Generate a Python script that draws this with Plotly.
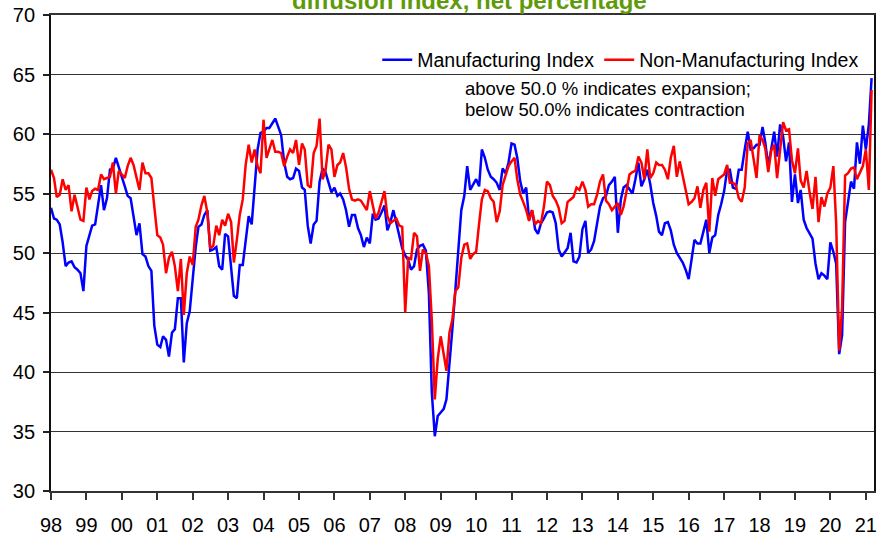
import pandas as pd
import plotly.graph_objects as go

start_month = "1998-01-01"

manufacturing = [
    53.8, 52.9, 52.8, 52.4, 50.9, 48.9, 49.2, 49.3, 48.8, 48.6, 48.3, 46.8,  # 1998
    50.6, 51.6, 52.3, 52.4, 54.2, 55.7, 53.6, 54.6, 57.0, 57.1, 58.0, 57.3,  # 1999
    56.4, 55.6, 54.8, 54.6, 53.1, 51.5, 52.5, 49.9, 49.7, 48.9, 48.5, 43.9,  # 2000
    42.3, 42.1, 43.0, 42.7, 41.3, 43.3, 43.6, 46.2, 46.2, 40.8, 44.1, 45.1,  # 2001
    47.8, 50.5, 52.2, 52.4, 53.2, 53.6, 50.2, 50.3, 50.5, 48.9, 48.6, 51.6,  # 2002
    51.4, 48.9, 46.4, 46.2, 49.0, 49.0, 51.1, 53.1, 52.4, 55.5, 58.7, 60.1,  # 2003
    60.2, 60.5, 60.5, 60.9, 61.3, 60.6, 59.9, 57.6, 56.4, 56.2, 56.3, 57.1,  # 2004
    56.9, 55.5, 55.3, 52.3, 50.8, 52.4, 52.7, 56.0, 57.1, 56.8, 56.0, 55.1,  # 2005
    55.5, 54.8, 55.0, 54.5, 53.6, 52.2, 53.2, 53.2, 52.1, 51.5, 50.5, 51.3,  # 2006
    50.8, 53.3, 52.8, 52.9, 53.4, 54.0, 51.9, 52.6, 53.6, 52.6, 51.4, 50.4,  # 2007
    49.8, 49.4, 48.6, 48.9, 50.3, 50.6, 50.7, 50.2, 46.6, 38.3, 34.6, 36.3,  # 2008
    36.6, 36.9, 37.7, 40.5, 43.6, 46.9, 50.6, 53.6, 54.8, 57.3, 55.3, 55.7,  # 2009
    56.2, 55.6, 58.7, 58.0, 57.0, 56.4, 56.2, 55.9, 55.3, 57.1, 56.7, 57.6,  # 2010
    59.2, 59.1, 58.0, 56.0, 55.0, 55.5, 52.8, 53.6, 52.0, 51.6, 52.5, 52.9,  # 2011
    53.4, 53.5, 53.4, 52.5, 50.3, 49.7, 50.0, 50.4, 51.7, 49.3, 49.2, 49.7,  # 2012
    52.0, 52.7, 50.0, 50.3, 51.0, 52.5, 53.9, 54.6, 54.8, 55.7, 56.0, 56.4,  # 2013
    51.7, 54.5, 55.5, 55.7, 55.3, 55.0, 56.2, 57.6, 55.6, 56.2, 57.0, 55.8,  # 2014
    54.2, 53.1, 51.8, 51.5, 52.5, 52.6, 51.9, 50.7, 50.0, 49.6, 49.2, 48.6,  # 2015
    47.8, 49.5, 51.1, 50.8, 50.8, 51.8, 52.8, 50.0, 51.3, 51.5, 53.2, 54.1,  # 2016
    55.2, 57.0, 57.0, 55.5, 55.4, 57.0, 57.0, 58.7, 60.2, 58.7, 58.8, 59.1,  # 2017
    59.1, 60.6, 59.3, 57.3, 58.7, 60.2, 58.1, 60.8, 59.8, 57.7, 59.3, 54.3,  # 2018
    56.6, 54.2, 55.3, 52.8, 52.1, 51.7, 51.2, 49.1, 47.8, 48.3, 48.1, 47.8,  # 2019
    50.9, 50.1, 49.1, 41.5, 43.1, 52.6, 54.2, 56.0, 55.4, 59.3, 57.5, 60.7,  # 2020
    58.7, 60.8, 64.7,                                                        # 2021
]

non_manufacturing = [
    57.0, 56.3, 54.7, 54.9, 56.2, 55.3, 55.7, 53.5, 54.9, 53.9, 52.8, 52.7,  # 1998
    55.5, 54.5, 55.2, 55.4, 55.3, 56.6, 56.2, 56.3, 56.4, 57.6, 55.0, 56.9,  # 1999
    56.6, 56.3, 57.3, 58.0, 57.4, 56.4, 55.3, 57.6, 56.7, 56.7, 56.3, 53.9,  # 2000
    51.5, 51.3, 50.7, 48.3, 49.6, 50.1, 48.9, 46.8, 49.5, 44.8, 48.3, 49.7,  # 2001
    49.0, 52.2, 52.8, 54.0, 54.8, 53.4, 50.4, 50.6, 52.3, 51.5, 52.8, 52.3,  # 2002
    53.3, 52.6, 49.2, 51.1, 53.2, 54.5, 57.4, 59.1, 57.6, 58.7, 57.3, 56.7,  # 2003
    61.2, 58.0, 58.7, 59.5, 58.5, 58.5, 58.4, 57.3, 58.1, 58.7, 58.4, 59.5,  # 2004
    57.4, 59.2, 58.7, 55.7, 55.5, 58.4, 59.0, 61.3, 56.2, 56.9, 59.1, 58.7,  # 2005
    56.4, 57.4, 57.6, 58.4, 57.2, 55.4, 54.5, 54.4, 54.5, 54.4, 54.0, 53.6,  # 2006
    55.2, 54.0, 52.9, 53.4, 54.3, 55.2, 53.1, 52.5, 52.7, 52.9, 52.3, 52.2,  # 2007
    45.0, 49.6, 49.5, 51.7, 51.4, 48.5, 50.3, 50.0, 48.9, 44.4, 37.7, 41.1,  # 2008
    43.0, 41.3, 40.1, 43.3, 44.4, 46.8, 47.1, 49.6, 50.7, 50.8, 49.5, 49.9,  # 2009
    50.1, 52.5, 54.5, 55.3, 55.2, 54.6, 54.3, 52.6, 53.5, 55.7, 56.6, 57.3,  # 2010
    57.7, 58.0, 56.2, 54.9, 54.3, 53.6, 52.7, 53.6, 52.4, 52.7, 52.5, 53.9,  # 2011
    56.0, 55.7, 54.8, 54.4, 53.8, 52.5, 52.7, 54.3, 54.5, 54.7, 55.5, 55.3,  # 2012
    56.0, 55.3, 53.9, 54.1, 54.1, 54.9, 56.0, 56.6, 54.4, 54.1, 53.6, 53.9,  # 2013
    54.2, 53.2, 53.9, 55.2, 56.6, 56.8, 56.9, 58.1, 57.6, 56.2, 58.7, 56.3,  # 2014
    56.7, 57.6, 57.4, 57.4, 57.0, 56.2, 58.0, 59.0, 56.4, 57.7, 56.4, 55.3,  # 2015
    54.1, 54.3, 54.6, 55.6, 53.8, 55.3, 55.9, 51.8, 56.3, 54.8, 56.2, 56.4,  # 2016
    56.6, 57.4, 55.9, 55.9, 55.7, 54.6, 54.3, 55.5, 59.2, 59.5, 57.7, 56.3,  # 2017
    59.9, 59.5, 58.8, 56.8, 58.6, 59.1, 56.3, 58.9, 61.0, 60.3, 60.4, 57.8,  # 2018
    56.7, 58.8, 56.1, 55.5, 56.9, 55.1, 53.7, 56.4, 52.6, 54.7, 53.9, 55.0,  # 2019
    55.5, 57.3, 52.5, 41.8, 45.4, 56.5, 56.7, 57.1, 57.2, 56.2, 56.7, 57.3,  # 2020
    58.7, 55.3, 63.7,                                                        # 2021
]

year_labels = ["98", "99", "00", "01", "02", "03", "04", "05", "06", "07", "08",
               "09", "10", "11", "12", "13", "14", "15", "16", "17", "18", "19",
               "20", "21"]

series_names = ["Manufacturing Index", "Non-Manufacturing Index"]
title_text = "diffusion index, net percentage"
note_lines = ["above 50.0 % indicates expansion;", "below 50.0% indicates contraction"]

dates = pd.date_range(start_month, periods=len(manufacturing), freq="MS")
tick_dates = pd.date_range(start_month, periods=len(year_labels), freq="12MS")

FONT = "Liberation Sans, Arial, sans-serif"

fig = go.Figure()
fig.add_trace(go.Scatter(x=dates, y=manufacturing, mode="lines", name=series_names[0],
                         line=dict(color="#0000FF", width=2.5)))
fig.add_trace(go.Scatter(x=dates, y=non_manufacturing, mode="lines", name=series_names[1],
                         line=dict(color="#FF0000", width=2.5)))

fig.update_layout(
    width=880, height=536,
    margin=dict(l=51, r=6, t=15, b=45, autoexpand=False),
    paper_bgcolor="white", plot_bgcolor="white",
    font=dict(family=FONT, color="black", size=20),
    showlegend=True,
    legend=dict(orientation="h", x=0.3964, xanchor="left", y=0.9055, yanchor="middle",
                font=dict(family=FONT, size=19.5, color="black"),
                bgcolor="rgba(0,0,0,0)", borderwidth=0),
    xaxis=dict(
        type="date",
        range=["1998-01-01", "2021-03-26"],
        tickvals=list(tick_dates), ticktext=year_labels,
        ticks="outside", ticklen=7, tickwidth=1.5, tickcolor="#333333",
        ticklabelstandoff=8, automargin=False,
        showgrid=False, showline=True, linecolor="#333333", linewidth=1.5, mirror=True,
        tickfont=dict(family=FONT, size=20, color="black"),
        zeroline=False,
    ),
    yaxis=dict(
        range=[30, 70], dtick=5, tick0=30,
        ticks="outside", ticklen=6, tickwidth=1.5, tickcolor="#222222",
        ticklabelstandoff=4, automargin=False,
        showgrid=True, gridcolor="#333333", gridwidth=1,
        showline=True, linecolor="#111111", linewidth=1.8, mirror=True,
        tickfont=dict(family=FONT, size=20, color="black"),
        zeroline=False,
    ),
)

fig.add_annotation(text="<b>" + title_text + "</b>", xref="paper", yref="paper",
                   x=0.509, y=0.998, xanchor="center", yanchor="bottom", showarrow=False,
                   font=dict(family=FONT, size=24, color="#5F9A0A"))
fig.add_annotation(text=note_lines[0], xref="paper", yref="paper",
                   x=0.5007, y=(491 - 88) / 476, xanchor="left", yanchor="middle",
                   showarrow=False, font=dict(family=FONT, size=18.5, color="black"))
fig.add_annotation(text=note_lines[1], xref="paper", yref="paper",
                   x=0.5007, y=(491 - 110) / 476, xanchor="left", yanchor="middle",
                   showarrow=False, font=dict(family=FONT, size=18.5, color="black"))

fig.write_html(
    "out.html",
    config={"displayModeBar": False},
    post_script="document.body.style.margin='0';document.body.style.padding='0';"
                "document.documentElement.style.overflow='hidden';",
)
